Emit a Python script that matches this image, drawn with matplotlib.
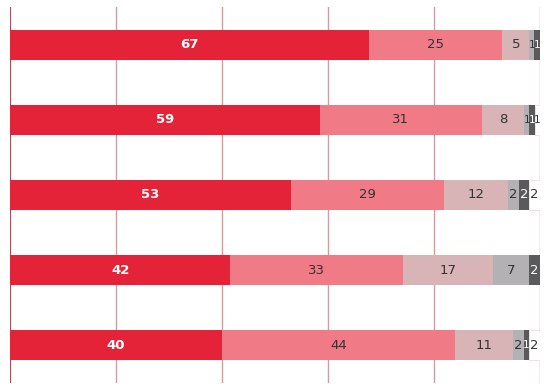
import numpy as np
import matplotlib.pyplot as plt

# values per row (top to bottom), one list per segment colour
seg_red = [67, 59, 53, 42, 40]
seg_pink = [25, 31, 29, 33, 44]
seg_light = [5, 8, 12, 17, 11]
seg_gray = [1, 1, 2, 7, 2]
seg_dark = [1, 1, 2, 2, 1]
seg_white = [0, 1, 2, 0, 2]

segments = [seg_red, seg_pink, seg_light, seg_gray, seg_dark, seg_white]
colors = ['#e42339', '#f07a85', '#d9b4b6', '#b3b1b3', '#5a5a5c', '#ffffff']
text_colors = ['white', '#333333', '#333333', '#333333', 'white', '#333333']
edge_colors = ['none', 'none', 'none', 'none', 'none', '#e6e2e2']

# rounded shares don't add to exactly 100, bars are stretched to full width
totals = np.sum(np.array(segments, dtype=float), axis=0)

fig = plt.figure(figsize=(5.6, 3.9), dpi=100)
ax = fig.add_axes([0.018, 0.018, 0.946, 0.964])

y = np.arange(len(seg_red))
left = np.zeros(len(seg_red))
for vals, c, tc, ec in zip(segments, colors, text_colors, edge_colors):
    raw = np.array(vals, dtype=float)
    w = raw / totals * 100
    ax.barh(y, w, left=left, height=0.4, color=c, edgecolor=ec, linewidth=0.6, zorder=2)
    for yi, v, wi, l in zip(y, raw, w, left):
        if v > 0:
            fs = 9.5 if wi >= 1.5 else 7.5
            ax.text(l + wi / 2, yi, str(int(v)), ha='center', va='center', color=tc,
                    fontsize=fs, fontweight='bold' if c == '#e42339' else 'normal',
                    zorder=3)
    left += w

ax.set_xlim(0, 100)
ax.set_ylim(4.5, -0.5)
for gx in [20, 40, 60, 80, 100]:
    ax.axvline(gx, color='#d69aa1', linewidth=1.0, zorder=1)
ax.axvline(0, color='#c9404c', linewidth=1.5, zorder=1)

for s in ax.spines.values():
    s.set_visible(False)
ax.set_xticks([])
ax.set_yticks([])

fig.savefig('out.png', dpi=100)
